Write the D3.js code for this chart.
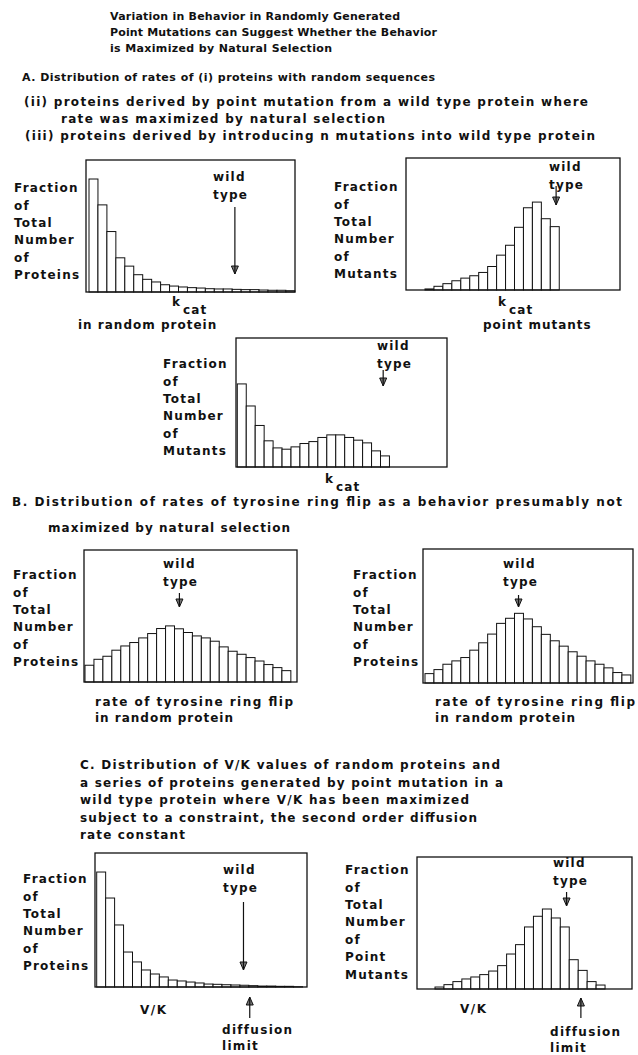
<!DOCTYPE html>
<html>
<head>
<meta charset="utf-8">
<script src="https://cdn.jsdelivr.net/npm/d3@7"></script>
<style>
  body { margin: 0; background: #fff; }
  text { font-family: "DejaVu Sans", sans-serif; fill: #111; font-weight: bold; }
</style>
</head>
<body>
<div id="fig"></div>
<script>
// bar heights, in % of each panel's axis height
var randomKcat = [85.6, 66.0, 45.8, 25.9, 19.6, 13.1, 9.6, 7.6, 5.5, 4.5, 3.8, 3.3, 3.0, 2.5, 2.3, 2.3, 2.0, 1.8, 1.8, 1.5, 1.3, 1.3, 1.0];
var pointKcat = [0.8, 2.8, 4.8, 7.0, 9.0, 10.8, 13.3, 17.8, 26.4, 33.9, 47.5, 62.3, 66.6, 54.0, 48.0];
var nMutKcat = [64.4, 47.3, 32.2, 20.3, 14.8, 13.8, 15.6, 18.2, 19.7, 22.9, 24.9, 24.9, 22.9, 20.8, 18.7, 12.5, 8.6];
var flipRandom = [12.7, 17.2, 19.5, 24.1, 27.3, 29.9, 33.4, 36.7, 40.5, 42.5, 40.3, 37.5, 34.9, 33.4, 30.9, 26.6, 23.3, 21.0, 18.5, 15.9, 13.2, 10.9, 8.6];
var flipMutants = [7.0, 10.0, 14.0, 16.5, 19.0, 24.5, 30.0, 36.5, 44.5, 48.3, 52.0, 47.8, 42.0, 36.3, 31.5, 27.5, 23.3, 20.0, 16.5, 14.0, 11.3, 7.8, 6.0];
var randomVK = [85.8, 66.4, 46.3, 26.1, 18.7, 12.7, 9.7, 7.5, 5.2, 4.5, 3.7, 3.0, 2.2, 2.0, 1.7, 1.5, 1.3, 1.0, 0.7, 0.7, 0.5, 0.5, 0.2];
var pointVK = [1.5, 3.3, 5.6, 7.6, 9.1, 10.9, 13.6, 17.7, 26.5, 33.6, 47.0, 55.1, 60.6, 53.8, 47.0, 22.2, 14.1, 5.6, 3.0];

// where the wild type sits / diffusion limit, in bin units from the first bar
var wildTypeBin = [16.3, 14.65, 16.3, 10.55, 10.45, 16.4, 14.7];
var diffusionBin = [17.1, 16.3];

var labProteins = ["Fraction", "of", "Total", "Number", "of", "Proteins"];
var labMutants = ["Fraction", "of", "Total", "Number", "of", "Mutants"];
var labPointMutants = ["Fraction", "of", "Total", "Number", "of", "Point", "Mutants"];

var BIN_W = 8.95, LINE = 17.4;

var svg = d3.select("#fig").append("svg")
    .attr("width", 638)
    .attr("height", 1055);

svg.append("rect").attr("width", 638).attr("height", 1055).attr("fill", "#fff");

// page text: [text, x, y, right edge (0 = natural), size]
var lines = [
  ["Variation in Behavior in Randomly Generated", 110, 16, 400, 11],
  ["Point Mutations can Suggest Whether the Behavior", 110, 32, 437, 11],
  ["is Maximized by Natural Selection", 110, 48, 332, 11],
  ["A.  Distribution of rates of (i) proteins with random sequences", 22, 77, 435, 11],
  ["(ii) proteins derived by point mutation from a wild type protein where", 24, 102, 588, 12],
  ["rate was maximized by natural selection", 61, 119, 385, 12],
  ["(iii) proteins derived by introducing n mutations into wild type protein", 25, 136, 595, 12],
  ["in random protein", 78, 325, 0, 12],
  ["point mutants", 483, 325, 0, 12],
  ["B. Distribution of rates of tyrosine ring flip as a behavior presumably not", 12, 502, 622, 12],
  ["maximized by natural selection", 48, 528, 290, 12],
  ["rate of tyrosine ring flip", 95, 702, 293, 12],
  ["in random protein", 95, 718, 233, 12],
  ["rate of tyrosine ring flip", 435, 702, 635, 12],
  ["in random protein", 435, 718, 575, 12],
  ["C. Distribution of V/K values of random proteins and", 80, 765, 500, 12],
  ["a series of proteins generated by point mutation in a", 80, 783, 503, 12],
  ["wild type protein where V/K has been maximized", 80, 800, 469, 12],
  ["subject to a constraint, the second order diffusion", 80, 818, 477, 12],
  ["rate constant", 80, 835, 185, 12]
];

lines.forEach(function(l) {
  var t = svg.append("text")
      .attr("x", l[1])
      .attr("y", l[2])
      .attr("dy", "0.35em")
      .style("font-size", l[4] + "px")
      .text(l[0]);
  if (l[3]) t.attr("textLength", l[3] - l[1]).attr("lengthAdjust", "spacing");
  else t.style("letter-spacing", "1px");
});

var panels = [
  {data: randomKcat, box: [86, 160, 209, 132], barX: 89, labels: labProteins, labX: 14, labY: 188,
   wild: wildTypeBin[0], wildTx: 213, wildTy: 177, arr: [207, 274], xlab: "kcat", xlabX: 172, xlabY: 302},
  {data: pointKcat, box: [406, 158, 214, 132], barX: 425, labels: labMutants, labX: 334, labY: 187,
   wild: wildTypeBin[1], wildTx: 549, wildTy: 167, arr: [186, 205], xlab: "kcat", xlabX: 498, xlabY: 302},
  {data: nMutKcat, box: [236, 338, 211, 129], barX: 237.3, labels: labMutants, labX: 163, labY: 364,
   wild: wildTypeBin[2], wildTx: 377, wildTy: 346, arr: [370, 386], xlab: "kcat", xlabX: 325, xlabY: 479},
  {data: flipRandom, box: [84, 550, 213, 132], barX: 85, labels: labProteins, labX: 13, labY: 575,
   wild: wildTypeBin[3], wildTx: 163, wildTy: 564, arr: [593, 607]},
  {data: flipMutants, box: [423, 549, 210, 134], barX: 425, labels: labProteins, labX: 353, labY: 575,
   wild: wildTypeBin[4], wildTx: 503, wildTy: 564, arr: [595, 607]},
  {data: randomVK, box: [95, 853, 212, 134], barX: 96.7, labels: labProteins, labX: 23, labY: 879,
   wild: wildTypeBin[5], wildTx: 223, wildTy: 870, arr: [902, 970], xlab: "V/K", xlabX: 140, xlabY: 1010,
   diff: diffusionBin[0], diffArr: [997, 1018], diffTx: 222, diffTy: 1030},
  {data: pointVK, box: [417, 857, 215, 132], barX: 435, labels: labPointMutants, labX: 345, labY: 870,
   wild: wildTypeBin[6], wildTx: 553, wildTy: 863, arr: [892, 906], xlab: "V/K", xlabX: 460, xlabY: 1009,
   diff: diffusionBin[1], diffArr: [998, 1018], diffTx: 550, diffTy: 1032}
];

function arrow(g, x, y0, y1, up) {
  // shaft plus a small open head at the tip
  var tip = up ? y0 : y1, s = up ? 1 : -1;
  g.append("path")
      .attr("d", "M" + (x - 3.5) + "," + (tip + s * 8) + "L" + x + "," + tip + "L" + (x + 3.5) + "," + (tip + s * 8) + "Z")
      .attr("fill", "#777")
      .attr("stroke", "#111")
      .attr("stroke-width", 1);
  g.append("line")
      .attr("x1", x).attr("x2", x)
      .attr("y1", y0).attr("y2", y1)
      .attr("stroke", "#111")
      .attr("stroke-width", 1.2);
}

function drawPanel(p) {
  var g = svg.append("g");
  var bx = p.box[0], by = p.box[1], bw = p.box[2], bh = p.box[3];

  var x = d3.scaleLinear()
      .domain([0, p.data.length])
      .range([p.barX, p.barX + p.data.length * BIN_W]);
  var y = d3.scaleLinear()
      .domain([0, 100])
      .range([by + bh, by]);

  g.selectAll("rect.bar")
    .data(p.data)
    .enter()
    .append("rect")
      .attr("class", "bar")
      .attr("x", function(d, i) { return x(i); })
      .attr("y", function(d) { return y(d); })
      .attr("width", x(1) - x(0))
      .attr("height", function(d) { return y(0) - y(d); })
      .attr("fill", "#fff")
      .attr("stroke", "#111")
      .attr("stroke-width", 1);

  g.append("rect")
      .attr("x", bx).attr("y", by)
      .attr("width", bw).attr("height", bh)
      .attr("fill", "none")
      .attr("stroke", "#111")
      .attr("stroke-width", 1.3);

  g.selectAll("text.ylab")
    .data(p.labels)
    .enter()
    .append("text")
      .attr("class", "ylab")
      .attr("x", p.labX)
      .attr("y", function(d, i) { return p.labY + i * LINE; })
      .attr("dy", "0.35em")
      .style("font-size", "12px")
      .style("letter-spacing", "1.2px")
      .text(function(d) { return d; });

  g.append("text").attr("x", p.wildTx).attr("y", p.wildTy).attr("dy", "0.35em")
      .style("font-size", "12px").style("letter-spacing", "1.2px").text("wild");
  g.append("text").attr("x", p.wildTx).attr("y", p.wildTy + LINE).attr("dy", "0.35em")
      .style("font-size", "12px").style("letter-spacing", "1.2px").text("type");
  arrow(g, x(p.wild), p.arr[0], p.arr[1], false);

  if (p.xlab == "kcat") {
    g.append("text").attr("x", p.xlabX).attr("y", p.xlabY).attr("dy", "0.35em")
        .style("font-size", "12px").text("k");
    g.append("text").attr("x", p.xlabX + 11).attr("y", p.xlabY + 8).attr("dy", "0.35em")
        .style("font-size", "12px").style("letter-spacing", "1.2px").text("cat");
  } else if (p.xlab) {
    g.append("text").attr("x", p.xlabX).attr("y", p.xlabY).attr("dy", "0.35em")
        .style("font-size", "12px").style("letter-spacing", "1.5px").text(p.xlab);
  }

  if (p.diff != null) {
    arrow(g, x(p.diff), p.diffArr[0], p.diffArr[1], true);
    g.append("text").attr("x", p.diffTx).attr("y", p.diffTy).attr("dy", "0.35em")
        .style("font-size", "12px").style("letter-spacing", "1.3px").text("diffusion");
    g.append("text").attr("x", p.diffTx).attr("y", p.diffTy + 16).attr("dy", "0.35em")
        .style("font-size", "12px").style("letter-spacing", "1.3px").text("limit");
  }
}

panels.forEach(drawPanel);
</script>
</body>
</html>
